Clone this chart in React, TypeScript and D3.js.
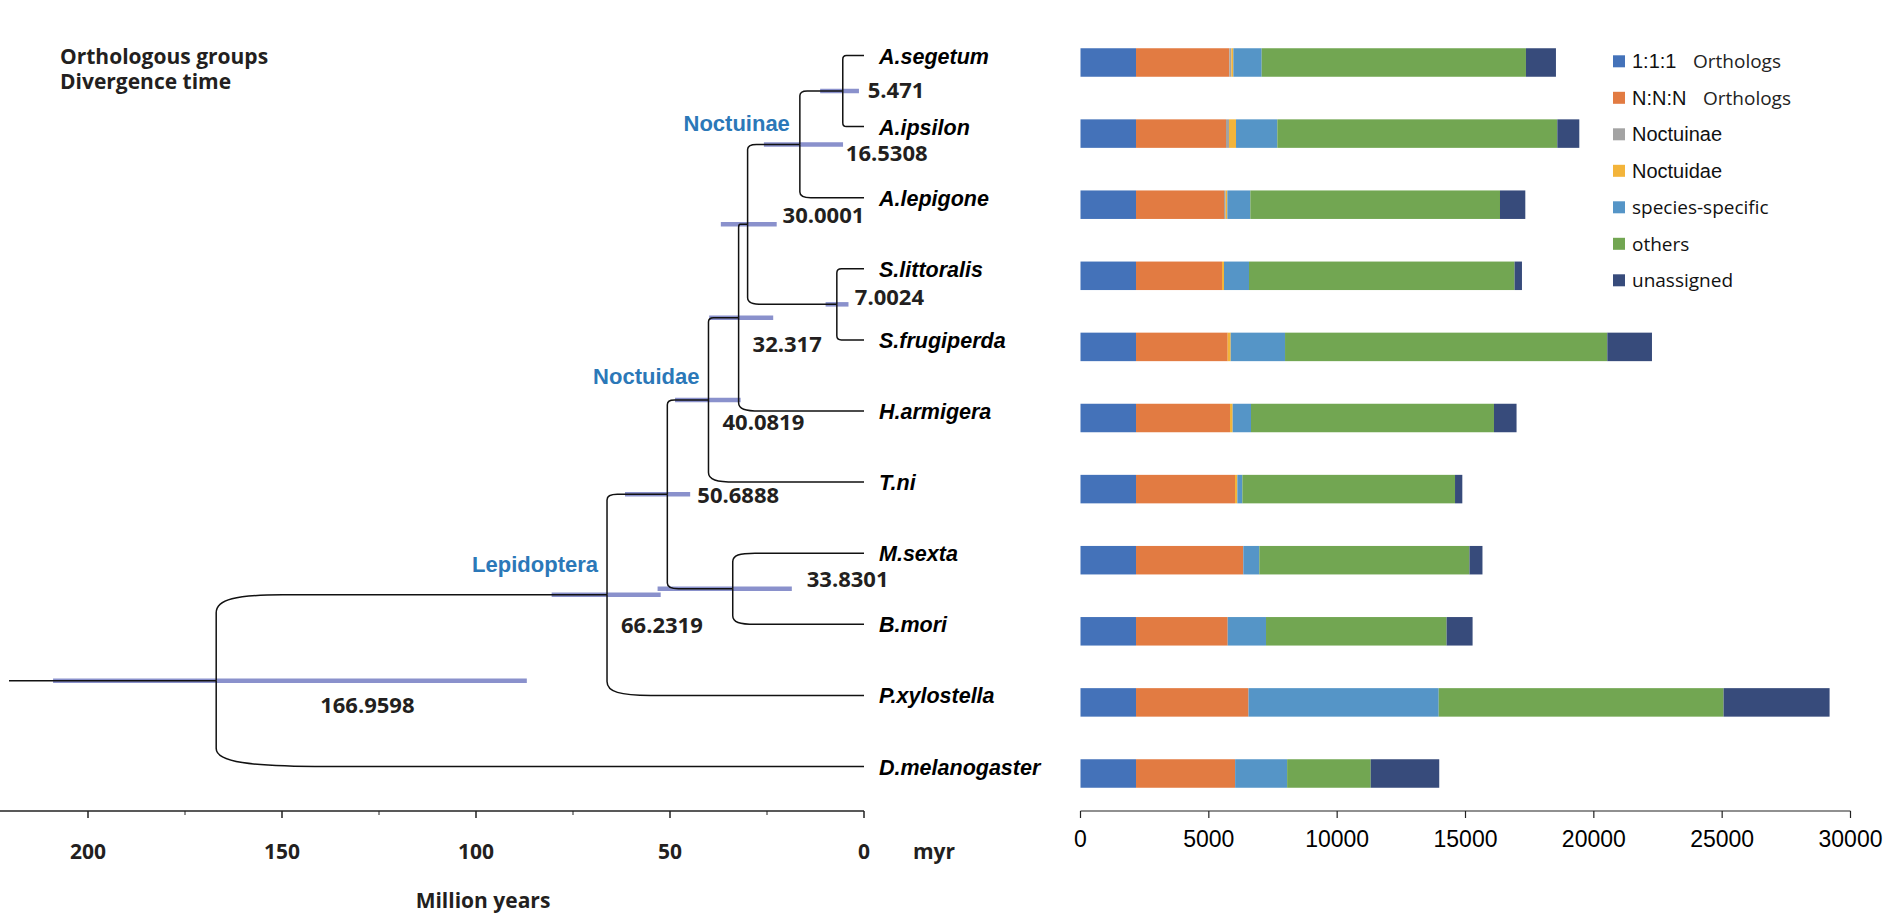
import * as d3 from "d3";

/** species, top to bottom */
const species = [
  "A.segetum",
  "A.ipsilon",
  "A.lepigone",
  "S.littoralis",
  "S.frugiperda",
  "H.armigera",
  "T.ni",
  "M.sexta",
  "B.mori",
  "P.xylostella",
  "D.melanogaster",
];

/** orthologous group counts per species */
const oneToOne = [2163, 2163, 2163, 2163, 2163, 2163, 2163, 2163, 2163, 2163, 2163];
const manyToMany = [3636, 3506, 3428, 3350, 3572, 3662, 3857, 4180, 3572, 4383, 3861];
const noctuinaeGroups = [78, 117, 65, 0, 0, 0, 0, 0, 0, 0, 0];
const noctuidaeGroups = [78, 273, 65, 78, 117, 104, 91, 0, 0, 0, 0];
const speciesSpecific = [1104, 1610, 896, 974, 2117, 714, 195, 623, 1493, 7410, 2026];
const others = [10296, 10908, 9727, 10347, 12556, 9466, 8286, 8189, 7035, 11099, 3257];
const unassigned = [1169, 857, 986, 288, 1740, 880, 284, 506, 1013, 4130, 2670];

const groupKeys = ["oneToOne", "manyToMany", "noctuinae", "noctuidae", "specific", "others", "unassigned"];
const groupColors = ["#4472b9", "#e27b42", "#a3a3a3", "#f3b43a", "#5595c7", "#72a652", "#374b7b"];
const legendLabels = [
  ["1:1:1", "Orthologs"],
  ["N:N:N", "Orthologs"],
  ["Noctuinae", ""],
  ["Noctuidae", ""],
  ["species-specific", ""],
  ["others", ""],
  ["unassigned", ""],
];

const barTicks = [0, 5000, 10000, 15000, 20000, 25000, 30000];
const timeTicks = [200, 150, 100, 50, 0];
const timeMinorTicks = [175, 125, 75, 25];

/** dated tree: ages and 95% HPD in million years */
type TreeNode = { id: string; age: number; hpd?: [number, number]; children?: TreeNode[] };
const tip = (id: string): TreeNode => ({ id, age: 0 });
const tree: TreeNode = {
  id: "root", age: 166.9598, hpd: [86.9, 209.0], children: [
    { id: "n66", age: 66.2319, hpd: [52.4, 80.5], children: [
      { id: "n50", age: 50.6888, hpd: [44.8, 61.6], children: [
        { id: "n40", age: 40.0819, hpd: [31.8, 48.7], children: [
          { id: "n32", age: 32.317, hpd: [23.4, 39.9], children: [
            { id: "n30", age: 30.0001, hpd: [22.5, 36.9], children: [
              { id: "n16", age: 16.5308, hpd: [5.4, 25.8], children: [
                { id: "n5", age: 5.471, hpd: [1.3, 11.3], children: [tip("A.segetum"), tip("A.ipsilon")] },
                tip("A.lepigone"),
              ] },
              { id: "n7", age: 7.0024, hpd: [4.0, 9.9], children: [tip("S.littoralis"), tip("S.frugiperda")] },
            ] },
            tip("H.armigera"),
          ] },
          tip("T.ni"),
        ] },
        { id: "n33", age: 33.8301, hpd: [18.6, 53.2], children: [tip("M.sexta"), tip("B.mori")] },
      ] },
      tip("P.xylostella"),
    ] },
    tip("D.melanogaster"),
  ],
};

const cladeLabels = [
  { node: "n16", text: "Noctuinae" },
  { node: "n40", text: "Noctuidae" },
  { node: "n66", text: "Lepidoptera" },
];

/** layout */
const width = 1900;
const height = 914;
const rowTop = 62.5;
const rowBottom = 773.5;
const barHeight = 28.5;
const tipShift = -7;
const axisY = 811;

const ageLabelOffset: Record<string, [number, number]> = {
  root: [104, 32],
  n66: [14, 38],
  n50: [30, 9],
  n40: [14, 30],
  n32: [14, 34.5],
  n30: [35, -1],
  n16: [46, 17],
  n5: [25, 7],
  n7: [18, 0.5],
  n33: [74, -2],
};
const cladeOffset: Record<string, [number, number]> = {
  n16: [-10, -13.5],
  n40: [-9, -16],
  n66: [-9, -22.5],
};

const boldSans = "'Open Sans', sans-serif";
const arial = "'Liberation Sans', Arial, sans-serif";

const xTime = d3.scaleLinear().domain([200, 0]).range([88, 864]);
const xBar = d3.scaleLinear().domain([0, 30000]).range([1080.5, 1850.5]);
const yRow = d3.scalePoint<string>().domain(species).range([rowTop, rowBottom]);

function branchPath(px: number, py: number, cx: number, cy: number) {
  const s = cy > py ? 1 : -1;
  const len = cx - px;
  const rx = Math.min(len * 0.17, 110);
  const ry = Math.min(rx * 0.25 + 3, 18, Math.abs(cy - py) / 2);
  return `M${px},${py}V${cy - s * ry}C${px},${cy - s * ry * 0.25} ${px + rx * 0.3},${cy} ${px + rx},${cy}H${cx}`;
}

const App = () => {
  const root = d3.hierarchy(tree);
  const pos = new Map<string, { x: number; y: number }>();
  root.eachAfter((n) => {
    const x = xTime(n.data.age);
    const y = n.children
      ? d3.mean(n.children, (c) => pos.get(c.data.id)!.y)!
      : (yRow(n.data.id) ?? 0) + tipShift;
    pos.set(n.data.id, { x, y });
  });
  const internal = root.descendants().filter((n) => n.children);
  const rootPos = pos.get("root")!;

  const table = species.map((s, i) => ({
    species: s,
    oneToOne: oneToOne[i],
    manyToMany: manyToMany[i],
    noctuinae: noctuinaeGroups[i],
    noctuidae: noctuidaeGroups[i],
    specific: speciesSpecific[i],
    others: others[i],
    unassigned: unassigned[i],
  }));
  const stacked = d3.stack<(typeof table)[number]>().keys(groupKeys)(table);

  return (
    <div style={{ position: "absolute", left: 0, top: 0 }}>
      <svg width={width} height={height} viewBox={`0 0 ${width} ${height}`} style={{ display: "block", background: "#fff" }}>
        {/* title */}
        <text x={60} y={64} fontFamily={boldSans} fontWeight="bold" fontSize={21} fill="#231f20">
          Orthologous groups
        </text>
        <text x={60} y={89} fontFamily={boldSans} fontWeight="bold" fontSize={21} fill="#231f20">
          Divergence time
        </text>

        {/* HPD bars */}
        {internal.map((n) => {
          const p = pos.get(n.data.id)!;
          const [a, b] = n.data.hpd!;
          return (
            <line
              key={`hpd-${n.data.id}`}
              x1={xTime(b)}
              x2={xTime(a)}
              y1={p.y}
              y2={p.y}
              stroke="#8a91cc"
              strokeWidth={4.5}
            />
          );
        })}

        {/* branches */}
        <g fill="none" stroke="#111" strokeWidth={1.5}>
          <line x1={9} x2={rootPos.x} y1={rootPos.y} y2={rootPos.y} />
          {internal.flatMap((n) =>
            n.children!.map((c) => {
              const p = pos.get(n.data.id)!;
              const q = pos.get(c.data.id)!;
              return <path key={`br-${c.data.id}`} d={branchPath(p.x, p.y, q.x, q.y)} />;
            })
          )}
        </g>

        {/* node ages */}
        {internal.map((n) => {
          const p = pos.get(n.data.id)!;
          const [dx, dy] = ageLabelOffset[n.data.id];
          return (
            <text
              key={`age-${n.data.id}`}
              x={p.x + dx}
              y={p.y + dy}
              fontFamily={boldSans}
              fontWeight="bold"
              fontSize={22}
              fill="#231f20"
            >
              {String(n.data.age)}
            </text>
          );
        })}

        {/* clade names */}
        {cladeLabels.map((c) => {
          const p = pos.get(c.node)!;
          const [dx, dy] = cladeOffset[c.node];
          return (
            <text
              key={c.text}
              x={p.x + dx}
              y={p.y + dy}
              textAnchor="end"
              fontFamily={arial}
              fontWeight="bold"
              fontSize={22}
              fill="#2b78b8"
            >
              {c.text}
            </text>
          );
        })}

        {/* species names */}
        {species.map((s) => (
          <text
            key={`sp-${s}`}
            x={879}
            y={(yRow(s) ?? 0) + tipShift + 8}
            fontFamily={arial}
            fontWeight="bold"
            fontStyle="italic"
            fontSize={21.5}
            fill="#000"
          >
            {s}
          </text>
        ))}

        {/* time axis */}
        <g stroke="#222" strokeWidth={1.5}>
          <line x1={0} x2={xTime(0)} y1={axisY} y2={axisY} />
          {timeTicks.map((t) => (
            <line key={`tt-${t}`} x1={xTime(t)} x2={xTime(t)} y1={axisY} y2={axisY + 7} />
          ))}
          {timeMinorTicks.map((t) => (
            <line key={`tm-${t}`} x1={xTime(t)} x2={xTime(t)} y1={axisY} y2={axisY + 4} strokeWidth={1} />
          ))}
        </g>
        {timeTicks.map((t) => (
          <text
            key={`tl-${t}`}
            x={xTime(t)}
            y={859}
            textAnchor="middle"
            fontFamily={boldSans}
            fontWeight="bold"
            fontSize={21}
            fill="#231f20"
          >
            {t}
          </text>
        ))}
        <text x={913} y={859} fontFamily={boldSans} fontWeight="bold" fontSize={21} fill="#231f20">
          myr
        </text>
        <text x={483} y={908} textAnchor="middle" fontFamily={boldSans} fontWeight="bold" fontSize={21} fill="#231f20">
          Million years
        </text>

        {/* stacked bars */}
        {stacked.map((layer, k) => (
          <g key={`layer-${layer.key}`} fill={groupColors[k]}>
            {layer.map((d, i) =>
              d[1] > d[0] ? (
                <rect
                  key={`${layer.key}-${i}`}
                  x={xBar(d[0])}
                  width={xBar(d[1]) - xBar(d[0])}
                  y={(yRow(species[i]) ?? 0) - barHeight / 2}
                  height={barHeight}
                />
              ) : null
            )}
          </g>
        ))}

        {/* count axis */}
        <g stroke="#222" strokeWidth={1.2}>
          <line x1={xBar(0)} x2={xBar(30000)} y1={axisY} y2={axisY} />
          {barTicks.map((t) => (
            <line key={`bt-${t}`} x1={xBar(t)} x2={xBar(t)} y1={axisY} y2={axisY + 7} />
          ))}
        </g>
        {barTicks.map((t) => (
          <text key={`bl-${t}`} x={xBar(t)} y={847} textAnchor="middle" fontFamily={arial} fontSize={23} fill="#000">
            {t}
          </text>
        ))}

        {/* legend */}
        {legendLabels.map(([main, extra], i) => {
          const cy = 61.3 + i * 36.5;
          return (
            <g key={`lg-${i}`}>
              <rect x={1613} y={cy - 6} width={12} height={12} fill={groupColors[i]} />
              <text
                x={1632}
                y={cy + 7}
                fontFamily={i < 4 ? arial : "'Open Sans', sans-serif"}
                fontSize={i < 4 ? 20 : 19}
                fill="#111"
              >
                {main}
              </text>
              {extra && (
                <text x={i === 0 ? 1693 : 1703} y={cy + 7} fontFamily="'Open Sans', sans-serif" fontSize={19} fill="#222">
                  {extra}
                </text>
              )}
            </g>
          );
        })}
      </svg>
    </div>
  );
};

export default App;
